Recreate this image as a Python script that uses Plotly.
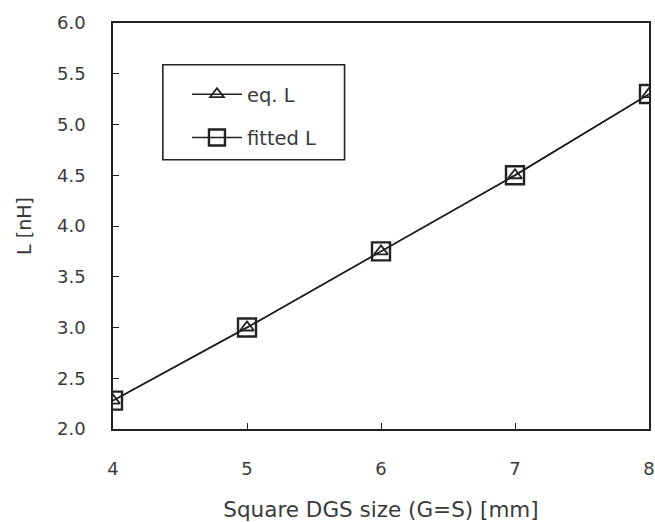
import plotly.graph_objects as go

sizes = [4, 5, 6, 7, 8]
eq_L = [2.28, 3.0, 3.75, 4.5, 5.3]
fitted_L = [2.28, 3.0, 3.75, 4.5, 5.3]
y_ticks = [2.0, 2.5, 3.0, 3.5, 4.0, 4.5, 5.0, 5.5, 6.0]

ink = "#222222"
txt = "#3a3a3a"
font = dict(family="DejaVu Sans, Liberation Sans, sans-serif", size=18, color=txt)

fig = go.Figure()
fig.add_trace(go.Scatter(
    x=sizes, y=eq_L, name="eq. L", mode="lines+markers", legendgroup="a",
    line=dict(color=ink, width=1.5),
    marker=dict(symbol="triangle-up-open", size=12, color=ink, line=dict(width=1.8)),
))
fig.add_trace(go.Scatter(
    x=sizes, y=fitted_L, name="fitted L", mode="lines+markers", legendgroup="b",
    line=dict(color=ink, width=1.5),
    marker=dict(symbol="square-open", size=18, color=ink, line=dict(width=2.4)),
))

fig.update_layout(
    width=655, height=522,
    margin=dict(l=113, r=6, t=23, b=93),
    paper_bgcolor="white", plot_bgcolor="white",
    font=font,
    showlegend=True,
    legend=dict(
        x=0.138, y=0.872, xanchor="left", yanchor="top",
        borderwidth=0, bgcolor="rgba(0,0,0,0)",
        font=dict(size=19.5, color=txt),
        itemwidth=50, tracegroupgap=15,
    ),
    shapes=[dict(
        type="rect", xref="paper", yref="paper",
        x0=0.093, x1=0.432, y0=0.663, y1=0.897,
        line=dict(color=ink, width=1.6), fillcolor="rgba(0,0,0,0)", layer="below",
    )],
    xaxis=dict(
        range=[4, 8], tickvals=sizes, ticks="inside", ticklen=6,
        tickcolor=ink, showline=True, linecolor=ink, linewidth=1.6,
        mirror=True, showgrid=False, zeroline=False, automargin=False,
        ticklabelstandoff=23, ticklabeloverflow="allow",
        title=dict(text="Square DGS size (G=S) [mm]", font=dict(size=21.5), standoff=24),
    ),
    yaxis=dict(
        range=[2.0, 6.0], tickvals=y_ticks, tickformat=".1f", ticks="inside", ticklen=6,
        tickcolor=ink, showline=True, linecolor=ink, linewidth=1.6,
        mirror=True, showgrid=False, zeroline=False, automargin=False,
        ticklabelstandoff=22,
        title=dict(text="L [nH]", font=dict(size=19), standoff=20),
    ),
)

fig.write_html(
    "out.html",
    config={"displayModeBar": False},
    post_script="document.body.style.margin='0';document.body.style.overflow='hidden';",
)
